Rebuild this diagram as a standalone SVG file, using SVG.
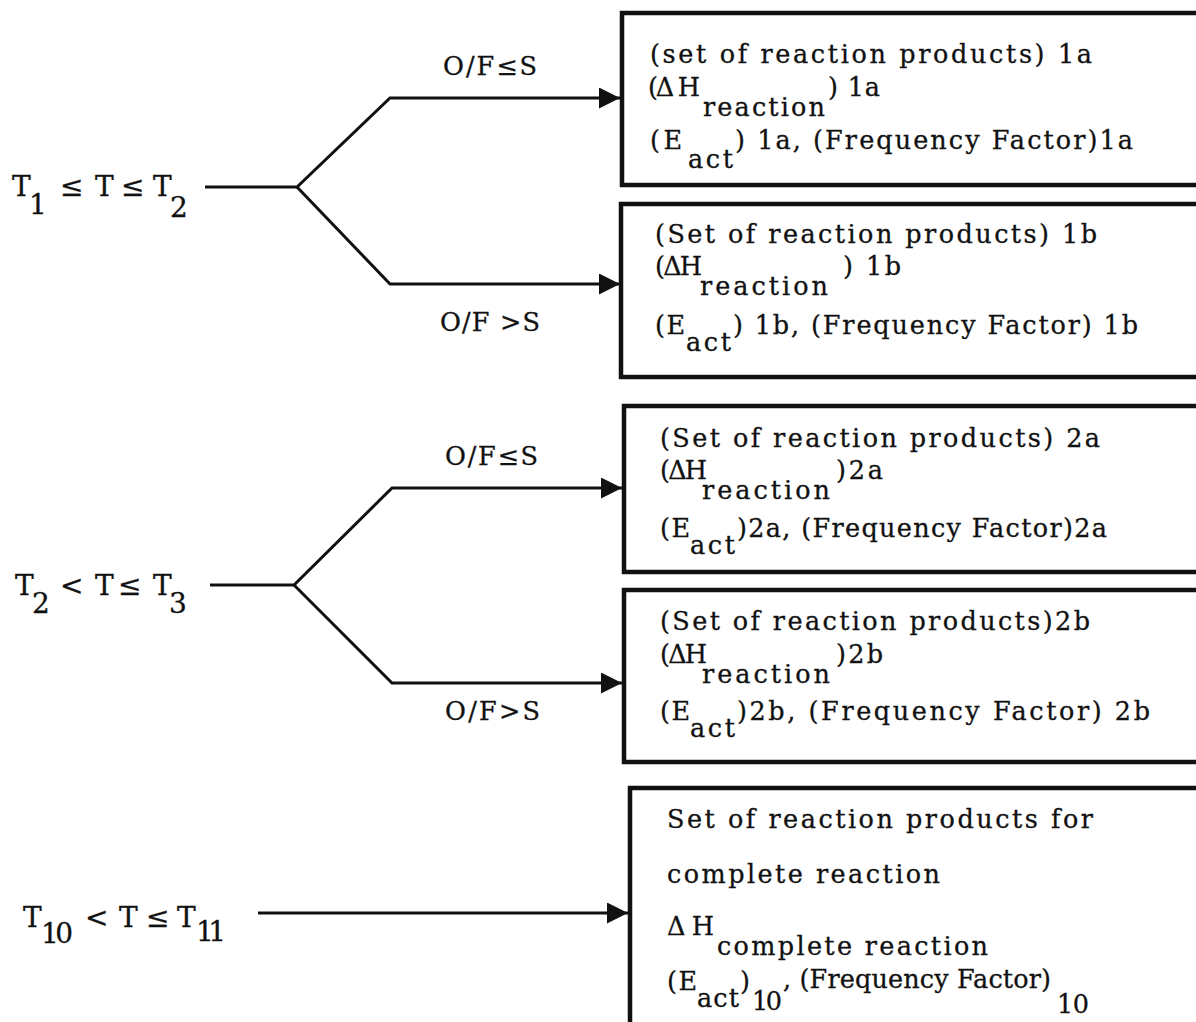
<svg xmlns="http://www.w3.org/2000/svg" width="1196" height="1022" viewBox="0 0 1196 1022">
<style>
text{font-family:"DejaVu Serif","Liberation Serif",serif;fill:#111;stroke:#111;stroke-width:0.3;}
.bt{font-size:25.5px;}
.lb{font-size:28px;}
.cl{font-size:25.5px;}
.box{fill:#fff;stroke:#111;stroke-width:4.5;}
.ln{fill:none;stroke:#111;stroke-width:3;stroke-linejoin:miter;}
</style>
<defs>
<marker id="ah" viewBox="0 0 10 10" refX="10" refY="5" markerWidth="8" markerHeight="7" markerUnits="strokeWidth" orient="auto">
<path d="M0,0 L10,5 L0,10 z" fill="#111"/>
</marker>
</defs>
<rect width="1196" height="1022" fill="#fff"/>

<g id="connectors">
<path class="ln" d="M205,187 H297 L390,98 H620" marker-end="url(#ah)"/>
<path class="ln" d="M297,187 L390,284 H620" marker-end="url(#ah)"/>
<path class="ln" d="M210,585 H294 L392,488 H622" marker-end="url(#ah)"/>
<path class="ln" d="M294,585 L392,683 H622" marker-end="url(#ah)"/>
<path class="ln" d="M258,913 H628" marker-end="url(#ah)"/>
</g>

<g id="label-range1">
<text class="lb" x="12" y="196">T</text><text class="lb" x="29" y="214">1</text>
<text class="lb" x="60" y="196">≤</text><text class="lb" x="95" y="196">T</text>
<text class="lb" x="121" y="196">≤</text><text class="lb" x="153" y="196">T</text><text class="lb" x="170" y="217">2</text>
</g>
<g id="label-range2">
<text class="lb" x="15" y="595">T</text><text class="lb" x="32" y="613">2</text>
<text class="lb" x="60" y="595">&lt;</text><text class="lb" x="95" y="595">T</text>
<text class="lb" x="118" y="595">≤</text><text class="lb" x="153" y="595">T</text><text class="lb" x="169" y="613">3</text>
</g>
<g id="label-range3">
<text class="lb" x="23" y="927">T</text><text class="lb" x="41" y="943" textLength="32">10</text>
<text class="lb" x="85" y="927">&lt;</text><text class="lb" x="119" y="927">T</text>
<text class="lb" x="146" y="927">≤</text><text class="lb" x="177" y="927">T</text><text class="lb" x="196" y="941" textLength="30">11</text>
</g>

<g id="cond-1a"><text class="cl" x="443" y="75" textLength="94">O/F≤S</text></g>
<g id="cond-1b"><text class="cl" x="440" y="331" textLength="100">O/F &gt;S</text></g>
<g id="cond-2a"><text class="cl" x="445" y="465" textLength="93">O/F≤S</text></g>
<g id="cond-2b"><text class="cl" x="445" y="720" textLength="95">O/F&gt;S</text></g>

<g id="box-1a">
<rect class="box" x="622" y="13" width="580" height="172"/>
<text class="bt" x="650" y="63" textLength="442">(set of reaction products) 1a</text>
<text class="bt" x="648" y="96" textLength="52">(Δ H</text><text class="bt" x="703" y="116" textLength="122">reaction</text><text class="bt" x="828" y="96" textLength="52">) 1a</text>
<text class="bt" x="650" y="149" textLength="32">(E</text><text class="bt" x="688" y="168" textLength="45">act</text><text class="bt" x="735" y="149" textLength="398">) 1a, (Frequency Factor)1a</text>
</g>

<g id="box-1b">
<rect class="box" x="621" y="204" width="580" height="173"/>
<text class="bt" x="655" y="243" textLength="442">(Set of reaction products) 1b</text>
<text class="bt" x="655" y="275" textLength="47">(ΔH</text><text class="bt" x="700" y="295" textLength="128">reaction</text><text class="bt" x="843" y="275" textLength="58">) 1b</text>
<text class="bt" x="655" y="334" textLength="30">(E</text><text class="bt" x="686" y="351" textLength="45">act</text><text class="bt" x="733" y="334" textLength="405">) 1b, (Frequency Factor) 1b</text>
</g>

<g id="box-2a">
<rect class="box" x="624" y="406" width="580" height="166"/>
<text class="bt" x="660" y="447" textLength="440">(Set of reaction products) 2a</text>
<text class="bt" x="660" y="479" textLength="47">(ΔH</text><text class="bt" x="702" y="499" textLength="128">reaction</text><text class="bt" x="836" y="479" textLength="47">)2a</text>
<text class="bt" x="660" y="537" textLength="30">(E</text><text class="bt" x="690" y="554" textLength="45">act</text><text class="bt" x="737" y="537" textLength="370">)2a, (Frequency Factor)2a</text>
</g>

<g id="box-2b">
<rect class="box" x="624" y="590" width="580" height="172"/>
<text class="bt" x="660" y="630" textLength="430">(Set of reaction products)2b</text>
<text class="bt" x="660" y="663" textLength="47">(ΔH</text><text class="bt" x="702" y="683" textLength="128">reaction</text><text class="bt" x="836" y="663" textLength="47">)2b</text>
<text class="bt" x="660" y="720" textLength="30">(E</text><text class="bt" x="690" y="737" textLength="45">act</text><text class="bt" x="737" y="720" textLength="413">)2b, (Frequency Factor) 2b</text>
</g>

<g id="box-10">
<rect class="box" x="630" y="788" width="580" height="260"/>
<text class="bt" x="667" y="828" textLength="426">Set of reaction products for</text>
<text class="bt" x="667" y="883" textLength="273">complete reaction</text>
<text class="bt" x="667" y="935" textLength="47">Δ H</text><text class="bt" x="717" y="955" textLength="271">complete reaction</text>
<text class="bt" x="667" y="990" textLength="30">(E</text><text class="bt" x="697" y="1007" textLength="42">act</text><text class="bt" x="740" y="990">)</text><text class="bt" x="752" y="1010" textLength="30">10</text>
<text class="bt" x="783" y="988" textLength="268">, (Frequency Factor)</text><text class="bt" x="1057" y="1013" textLength="32">10</text>
</g>
</svg>
